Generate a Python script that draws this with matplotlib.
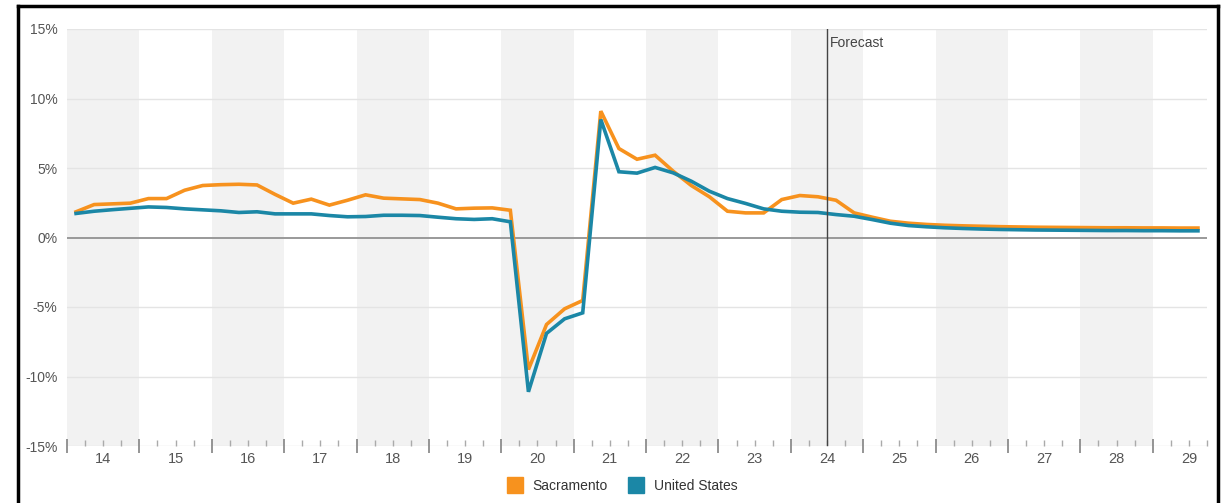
import numpy as np
import matplotlib.pyplot as plt
from matplotlib.lines import Line2D
from matplotlib.transforms import blended_transform_factory

plt.rcParams['font.family'] = ['Liberation Sans', 'DejaVu Sans']

# quarterly year-over-year change, 2014 Q1 .. 2029 Q3
sacramento = [1.85, 2.37, 2.42, 2.47, 2.8, 2.8, 3.4, 3.74,
              3.8, 3.83, 3.78, 3.1, 2.47, 2.76, 2.33, 2.68,
              3.07, 2.83, 2.78, 2.73, 2.47, 2.06, 2.11, 2.13,
              1.96, -9.5, -6.26, -5.13, -4.53, 9.09, 6.4, 5.63,
              5.92, 4.77, 3.74, 2.93, 1.89, 1.77, 1.77, 2.73,
              3.02, 2.93, 2.68, 1.77, 1.46, 1.17, 1.03, 0.94,
              0.88, 0.84, 0.81, 0.78, 0.76, 0.74, 0.73, 0.72,
              0.71, 0.70, 0.70, 0.69, 0.69, 0.68, 0.68]
united_states = [1.73, 1.89, 2.0, 2.1, 2.2, 2.16, 2.06, 1.99,
                 1.92, 1.8, 1.85, 1.7, 1.7, 1.7, 1.58, 1.49,
                 1.51, 1.6, 1.6, 1.58, 1.46, 1.35, 1.3, 1.35,
                 1.13, -11.1, -6.9, -5.85, -5.42, 8.49, 4.73, 4.63,
                 5.04, 4.65, 4.05, 3.33, 2.8, 2.45, 2.06, 1.89,
                 1.82, 1.8, 1.65, 1.53, 1.29, 1.03, 0.86, 0.77,
                 0.70, 0.65, 0.61, 0.58, 0.56, 0.54, 0.53, 0.52,
                 0.51, 0.50, 0.50, 0.49, 0.49, 0.48, 0.48]
years = list(range(14, 30))
forecast_start = 24.5

orange = '#f7921e'
teal = '#1b87a6'

n = len(sacramento)
x = 14 + (np.arange(n) + 0.5) / 4

fig = plt.figure(figsize=(12.22, 5.03), dpi=100)
ax = fig.add_axes([67 / 1222, 1 - 446 / 503, 1140 / 1222, 417 / 503])

# alternating year bands
for y in years[::2]:
    ax.axvspan(y, y + 1, color='#f2f2f2', lw=0, zorder=0)

for v in [-15, -10, -5, 5, 10, 15]:
    ax.axhline(v, color='#e4e4e4', lw=1, zorder=1)
ax.axhline(0, color='#999999', lw=1.4, zorder=1)

ax.plot(x, sacramento, color=orange, lw=2.6, zorder=3, solid_joinstyle='miter')
ax.plot(x, united_states, color=teal, lw=2.6, zorder=4, solid_joinstyle='miter')

ax.axvline(forecast_start, color='#444444', lw=1, zorder=5)
ax.text(forecast_start + 0.04, 14.0, 'Forecast', color='#444444', fontsize=10,
        ha='left', va='center')

ax.set_xlim(14, 29.75)
ax.set_ylim(-15, 15)
for s in ax.spines.values():
    s.set_visible(False)

ax.set_yticks([-15, -10, -5, 0, 5, 10, 15])
ax.set_yticklabels(['-15%', '-10%', '-5%', '0%', '5%', '10%', '15%'])
ax.tick_params(axis='y', length=0, pad=7, labelsize=10, labelcolor='#555555')

ax.set_xticks(years)
ax.set_xticks([y + q / 4 for y in years for q in (1, 2, 3)], minor=True)
ax.tick_params(axis='x', which='major', direction='inout', length=9.5, width=1.3,
               color='#8c8c8c', labelbottom=False)
ax.tick_params(axis='x', which='minor', direction='in', length=4.5, width=1,
               color='#aaaaaa')

tr = blended_transform_factory(ax.transData, ax.transAxes)
for y in years:
    if y + 0.5 <= 29.75:
        ax.text(y + 0.5, -0.031, str(y), transform=tr, ha='center', va='center',
                fontsize=10.5, color='#555555')

handles = [Line2D([], [], ls='none', marker='s', markersize=11, color=orange),
           Line2D([], [], ls='none', marker='s', markersize=11, color=teal)]
fig.legend(handles, ['Sacramento', 'United States'], loc='center',
           bbox_to_anchor=(619 / 1222, 1 - 486 / 503), ncol=2, frameon=False,
           fontsize=10, handletextpad=0.3, columnspacing=1.0, labelcolor='#333333')

# outer frame
for xs, ys in [((18, 18), (0, 497)), ((1218, 1218), (0, 497)), ((18, 1218), (497, 497))]:
    fig.add_artist(Line2D([v / 1222 for v in xs], [v / 503 for v in ys],
                          transform=fig.transFigure, color='black', lw=2.5))

fig.savefig('out.png', dpi=100)
